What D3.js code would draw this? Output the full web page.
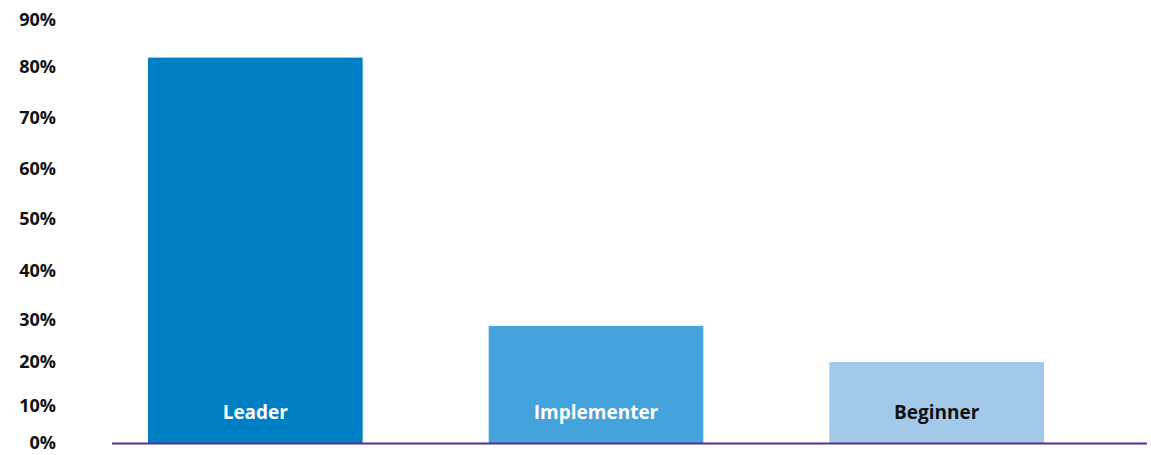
<!DOCTYPE html>
<html>
  <head>
    <meta charset="utf-8">
    <title>Maturity levels</title>
    <script src="https://cdn.jsdelivr.net/npm/d3@7"></script>
    <style>
      body { margin: 0; background: #fff; }
      .axis text {
        font-family: 'Open Sans', sans-serif;
        font-size: 18px;
        font-weight: 700;
        fill: #111;
        text-anchor: end;
      }
      .bar-label {
        font-family: 'Open Sans', sans-serif;
        font-size: 19px;
        font-weight: 700;
        text-anchor: middle;
      }
    </style>
  </head>
  <body>
    <script>

      var categories = ["Leader", "Implementer", "Beginner"];
      var values = [82, 28.6, 20];
      var barColors = ["#0080c4", "#45a3db", "#a3c9ea"];
      var labelColors = ["#ffffff", "#ffffff", "#111111"];
      var tickValues = [0, 10, 20, 30, 40, 50, 60, 70, 80, 90];

      var width = 1151;
      var height = 455;

      var svg = d3.select("body").append("svg")
        .attr("width", width)
        .attr("height", height);

      // the printed axis is not evenly spaced, so follow its label positions
      var yScale = d3.scaleLinear()
        .domain(tickValues)
        .range([443, 406, 362, 320, 271, 219, 169, 118, 67, 20]);

      var xScale = d3.scaleBand()
        .domain(categories)
        .range([148, 1044])
        .paddingInner(0.37)
        .paddingOuter(0);

      var axisG = svg.append("g").attr("class", "axis");
      axisG.selectAll("text").data(tickValues).enter().append("text")
        .attr("x", 56)
        .attr("y", function(d) { return yScale(d); })
        .attr("dy", "0.35em")
        .text(function(d) { return d + "%"; });

      var bars = svg.append("g");
      bars.selectAll("rect").data(values).enter().append("rect")
        .attr("x", function(d, i) { return xScale(categories[i]); })
        .attr("width", xScale.bandwidth())
        .attr("y", function(d) { return yScale(d); })
        .attr("height", function(d) { return yScale(0) - yScale(d); })
        .attr("fill", function(d, i) { return barColors[i]; });

      bars.selectAll("text").data(categories).enter().append("text")
        .attr("class", "bar-label")
        .attr("x", function(d) { return xScale(d) + xScale.bandwidth() / 2; })
        .attr("y", 412)
        .attr("dy", "0.35em")
        .attr("fill", function(d, i) { return labelColors[i]; })
        .text(function(d) { return d; });

      svg.append("line")
        .attr("x1", 112)
        .attr("x2", 1147)
        .attr("y1", yScale(0) + 0.5)
        .attr("y2", yScale(0) + 0.5)
        .attr("stroke", "#5c2d91")
        .attr("stroke-width", 2);

    </script>
  </body>
</html>
